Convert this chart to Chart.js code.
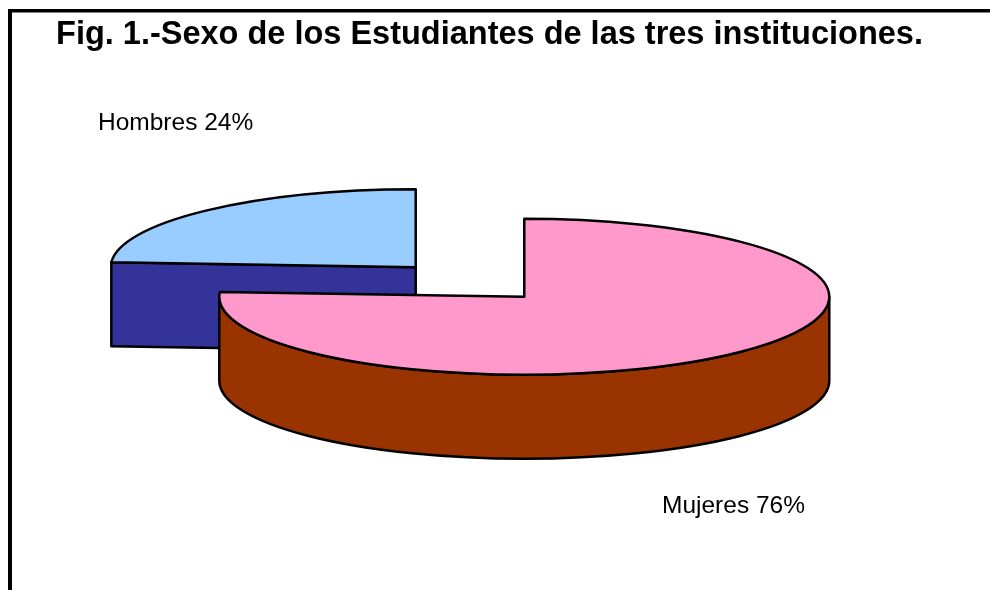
<!DOCTYPE html>
<html>
<head>
<meta charset="utf-8">
<script src="https://cdn.jsdelivr.net/npm/chart.js@4"></script>
<style>
  html, body { margin: 0; padding: 0; background: #fff; }
  #wrap { width: 990px; height: 590px; }
</style>
</head>
<body>
<div id="wrap"><canvas id="c" width="990" height="590"></canvas></div>
<script>
// ---- data ----
const titleText = 'Fig. 1.-Sexo de los Estudiantes de las tres instituciones.';
const categories = ['Mujeres', 'Hombres'];
const values = [76, 24];
const topColors = ['#FF99CC', '#99CCFF'];
const sideColors = ['#993300', '#333399'];

// ---- style constants ----
const FONT = "'Liberation Sans', Arial, sans-serif";
const PX = 470, PY = 282;      // base pie centre on screen
const RX = 305, RY = 78;       // ellipse radii of the tilted pie
const DEPTH = 84;              // thickness
const EXPLODE = 0.26;          // explosion as fraction of radius
const LABEL_POS = { Mujeres: [662, 513], Hombres: [98, 129.5] };

function drawSlice(ctx, s) {
  ctx.lineWidth = 2.5;
  ctx.strokeStyle = '#000';
  ctx.lineJoin = 'round';
  const { cx, cy, a0, a1 } = s;
  const radial = (a) => {
    const ox = cx + RX * Math.cos(a), oy = cy + RY * Math.sin(a);
    ctx.beginPath();
    ctx.moveTo(cx, cy);
    ctx.lineTo(ox, oy);
    ctx.lineTo(ox, oy + DEPTH);
    ctx.lineTo(cx, cy + DEPTH);
    ctx.closePath();
    ctx.fillStyle = s.side;
    ctx.fill();
    ctx.stroke();
  };
  if (Math.cos(a0) < -1e-9) radial(a0);
  if (Math.cos(a1) > 1e-9) radial(a1);
  for (let k = -1; k <= 1; k++) {
    const lo = Math.max(a0, 2 * k * Math.PI);
    const hi = Math.min(a1, 2 * k * Math.PI + Math.PI);
    if (hi > lo) {
      ctx.beginPath();
      ctx.ellipse(cx, cy, RX, RY, 0, lo, hi, false);
      ctx.ellipse(cx, cy + DEPTH, RX, RY, 0, hi, lo, true);
      ctx.closePath();
      ctx.fillStyle = s.side;
      ctx.fill();
      ctx.stroke();
    }
  }
  ctx.beginPath();
  ctx.moveTo(cx, cy);
  ctx.ellipse(cx, cy, RX, RY, 0, a0, a1, false);
  ctx.closePath();
  ctx.fillStyle = s.top;
  ctx.fill();
  ctx.stroke();
}

const pie3d = {
  id: 'pie3d',
  beforeDatasetsDraw(chart) {
    const ctx = chart.ctx;
    const meta = chart.getDatasetMeta(0);
    const items = meta.data.map((a, i) => {
      const p = a.getProps(['startAngle', 'endAngle'], true);
      const mid = (p.startAngle + p.endAngle) / 2;
      return {
        i,
        a0: p.startAngle,
        a1: p.endAngle,
        cx: PX + EXPLODE * RX * Math.cos(mid),
        cy: PY + EXPLODE * RY * Math.sin(mid),
        top: topColors[i],
        side: sideColors[i]
      };
    });
    items.sort((p, q) => p.cy - q.cy);
    ctx.save();
    items.forEach(s => drawSlice(ctx, s));
    ctx.restore();
    return false;
  },
  afterDraw(chart) {
    const ctx = chart.ctx;
    ctx.save();
    ctx.fillStyle = '#000';
    ctx.fillRect(8, 9, 4, 600);
    ctx.fillRect(8, 9, 1000, 3.5);
    ctx.font = '24.5px ' + FONT;
    ctx.textBaseline = 'alphabetic';
    ctx.textAlign = 'left';
    ctx.fillStyle = '#000';
    categories.forEach((c, i) => {
      const [x, y] = LABEL_POS[c];
      ctx.fillText(c + ' ' + values[i] + '%', x, y);
    });
    ctx.restore();
  }
};

new Chart(document.getElementById('c'), {
  type: 'pie',
  data: {
    labels: categories,
    datasets: [{
      data: values,
      backgroundColor: topColors,
      borderColor: '#000',
      borderWidth: 2
    }]
  },
  options: {
    responsive: false,
    animation: false,
    layout: { padding: { left: 0, right: 11, top: 0, bottom: 0 } },
    plugins: {
      legend: { display: false },
      tooltip: { enabled: false },
      title: {
        display: true,
        text: titleText,
        color: '#000',
        font: { family: FONT, size: 32.5, weight: 'bold' },
        padding: { top: 16, bottom: 10 }
      }
    }
  },
  plugins: [pie3d]
});
</script>
</body>
</html>
